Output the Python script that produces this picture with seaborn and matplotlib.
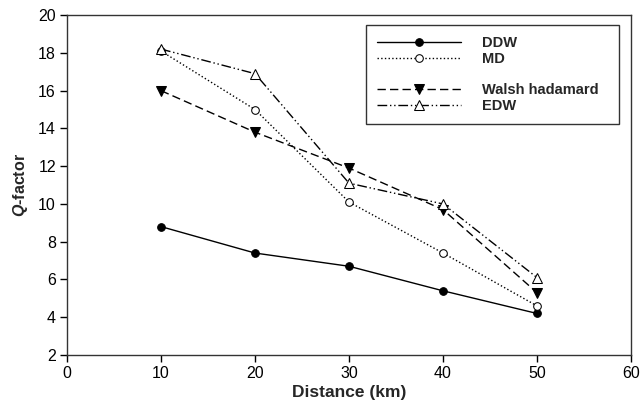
import matplotlib
matplotlib.use("Agg")
import matplotlib.pyplot as plt
from matplotlib.lines import Line2D
import pandas as pd
import seaborn as sns

distance = [10, 20, 30, 40, 50]
ddw = [8.8, 7.4, 6.7, 5.4, 4.2]
md = [18.1, 15.0, 10.1, 7.4, 4.6]
walsh = [16.0, 13.8, 11.9, 9.7, 5.3]
edw = [18.2, 16.9, 11.1, 10.0, 6.1]

sns.set_style("ticks")
plt.rcParams['font.family'] = ['Liberation Sans', 'DejaVu Sans']
plt.rcParams['mathtext.fontset'] = 'custom'
plt.rcParams['mathtext.bfit'] = 'Liberation Sans:italic:bold'

df = pd.DataFrame({'Distance': distance, 'DDW': ddw, 'MD': md,
                   'Walsh hadamard': walsh, 'EDW': edw})

fig = plt.figure(figsize=(6.42, 4.09), dpi=100)
ax = fig.add_axes([0.1044, 0.132, 0.8785, 0.831])

# one call per scheme so each gets its own marker fill
sns.lineplot(data=df, x='Distance', y='DDW', ax=ax, color='k', lw=1,
             linestyle='-', marker='o', ms=5.5, mfc='k', mec='k', label='DDW')
sns.lineplot(data=df, x='Distance', y='MD', ax=ax, color='k', lw=1,
             linestyle=':', marker='o', ms=5.5, mfc='white', mec='k', label='MD')
sns.lineplot(data=df, x='Distance', y='Walsh hadamard', ax=ax, color='k', lw=1,
             linestyle=(0, (6, 3)), marker='v', ms=6.5, mfc='k', mec='k',
             label='Walsh hadamard')
sns.lineplot(data=df, x='Distance', y='EDW', ax=ax, color='k', lw=1,
             linestyle=(0, (7, 2, 1, 2, 1, 2)), marker='^', ms=6.5, mfc='white',
             mec='k', label='EDW')

ax.set_xlim(0, 60)
ax.set_ylim(2, 20)
ax.set_xticks(range(0, 61, 10))
ax.set_yticks(range(2, 21, 2))
ax.tick_params(direction='out', length=5, width=1, labelsize=11.5, colors='k', pad=3)
for s in ax.spines.values():
    s.set_visible(True)
    s.set_color('#333333')
    s.set_linewidth(1)

ax.set_xlabel('Distance (km)', fontsize=12.5, fontweight='bold', labelpad=3)
ax.set_ylabel(r'$\mathbfit{Q}$-factor', fontsize=11.5, fontweight='bold', labelpad=6)

handles, labels = ax.get_legend_handles_labels()
blank = Line2D([], [], linestyle='none', marker=None)
handles = handles[:2] + [blank] + handles[2:]
labels = labels[:2] + [''] + labels[2:]
leg = ax.legend(handles, labels, loc='upper left',
                bbox_to_anchor=(0.53, 0.682, 0.449, 0.289), mode='expand',
                frameon=True, fancybox=False, framealpha=1, edgecolor='#333333',
                handlelength=5.8, handletextpad=1.4, labelspacing=0.12,
                borderpad=0.75, borderaxespad=0,
                prop={'weight': 'bold', 'size': 10.5})
leg.get_frame().set_linewidth(1)

fig.savefig('out.png', dpi=100)
